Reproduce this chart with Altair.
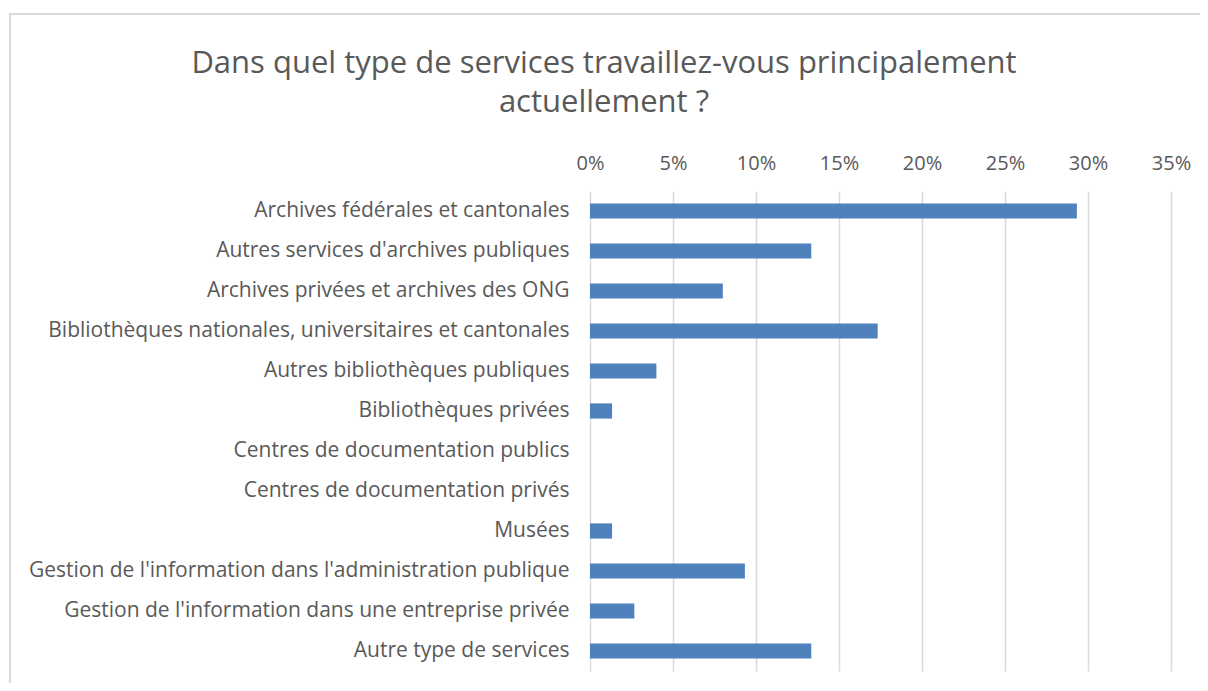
import altair as alt
import pandas as pd

categories = [
    "Archives fédérales et cantonales",
    "Autres services d'archives publiques",
    "Archives privées et archives des ONG",
    "Bibliothèques nationales, universitaires et cantonales",
    "Autres bibliothèques publiques",
    "Bibliothèques privées",
    "Centres de documentation publics",
    "Centres de documentation privés",
    "Musées",
    "Gestion de l'information dans l'administration publique",
    "Gestion de l'information dans une entreprise privée",
    "Autre type de services",
]
shares = [0.2933, 0.1333, 0.08, 0.1733, 0.04, 0.0133, 0.0, 0.0, 0.0133, 0.0933, 0.0267, 0.1333]
tick_values = [0, 0.05, 0.10, 0.15, 0.20, 0.25, 0.30, 0.35]
title_lines = ["Dans quel type de services travaillez-vous principalement", "actuellement ?"]

df = pd.DataFrame({"cat": categories, "share": shares})

FONT = "Open Sans"
GREY = "#595959"

bars = alt.Chart(df).mark_bar(color="#4f81bd").encode(
    x=alt.X("share:Q",
            scale=alt.Scale(domain=[0, 0.35], nice=False),
            axis=alt.Axis(orient="top", format=".0%", values=tick_values, title=None,
                          domain=False, ticks=False, grid=True, gridColor="#d9d9d9",
                          gridWidth=1.5, labelFont=FONT, labelFontSize=20,
                          labelColor=GREY, labelPadding=18, labelFlush=False)),
    y=alt.Y("cat:N", sort=categories,
            scale=alt.Scale(paddingInner=0.62, paddingOuter=0.31),
            axis=alt.Axis(title=None, domain=False, ticks=False, labelFont=FONT,
                          labelFontSize=21, labelColor=GREY, labelPadding=21,
                          labelLimit=600)),
)

border = alt.Chart(df).mark_rect(fill=None, stroke="#d9d9d9", strokeWidth=1.5, clip=False).encode(
    x=alt.value(-580), x2=alt.value(640), y=alt.value(-177), y2=alt.value(520)
)

title1 = alt.Chart(pd.DataFrame({"t": [title_lines[0]]})).mark_text(
    font=FONT, fontSize=31, color=GREY, align="center", baseline="middle"
).encode(text="t:N", x=alt.value(14), y=alt.value(-127))

title2 = alt.Chart(pd.DataFrame({"t": [title_lines[1]]})).mark_text(
    font=FONT, fontSize=31, color=GREY, align="center", baseline="middle"
).encode(text="t:N", x=alt.value(14), y=alt.value(-88))

chart = alt.layer(border, bars, title1, title2).properties(
    width=581,
    height=480,
    autosize=alt.AutoSizeParams(type="none"),
    padding={"left": 582, "top": 183, "right": 29, "bottom": 12},
).configure_view(stroke=None)

chart.save("out.html", embed_options={"renderer": "svg", "actions": False})
